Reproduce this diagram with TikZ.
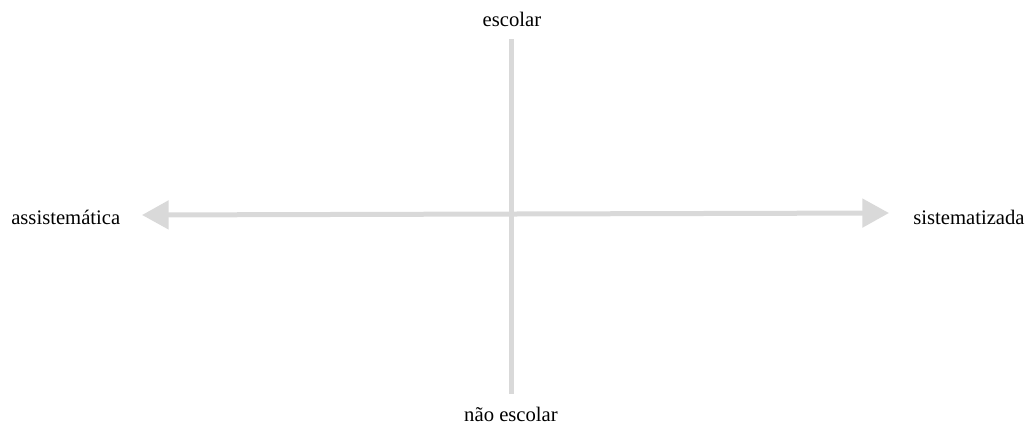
\documentclass[tikz,border=0pt]{standalone}
\usepackage{fontspec}
\setmainfont{Liberation Serif}
\usetikzlibrary{arrows.meta}
\definecolor{axisgray}{HTML}{D9D9D9}

\begin{document}
\begin{tikzpicture}[x=0.75pt, y=-0.75pt,
  axis/.style={draw=axisgray, line width=3.75pt},
  tip/.style={{Triangle[length=20pt, width=21pt]}-{Triangle[length=20pt, width=21pt]}},
  lbl/.style={font=\fontsize{15.5}{18}\selectfont, inner sep=0pt}
]
\useasboundingbox (0,0) rectangle (1028,425);

\coordinate (top) at (511,39);
\coordinate (bot) at (511,394);
\coordinate (lft) at (142,215);
\coordinate (rgt) at (889,213);

\draw[axis] (top) -- (bot);
\draw[axis, tip] (lft) -- (rgt);

\node[lbl, anchor=base] (esc) at (512,26) {escolar};
\node[lbl, anchor=base] (nesc) at (511,421) {não escolar};
\node[lbl, anchor=base west] (asis) at (11,224) {assistemática};
\node[lbl, anchor=base west] (sist) at (913,224) {sistematizada};
\end{tikzpicture}
\end{document}
